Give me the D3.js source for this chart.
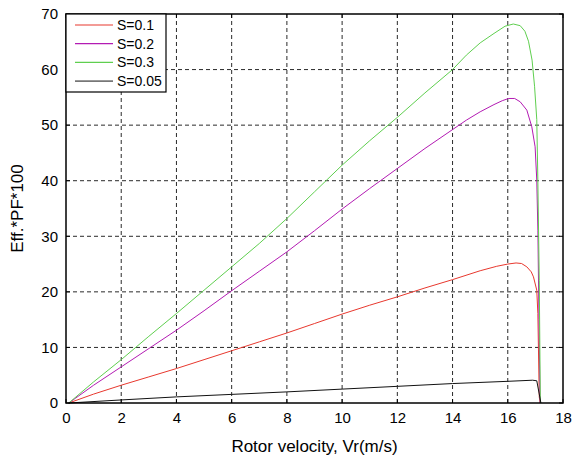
<!DOCTYPE html>
<html>
<head>
	<script type="text/javascript" src="https://cdn.jsdelivr.net/npm/d3@7"></script>
	<style type="text/css">
		body {
			margin: 0;
			background: white;
		}
		text {
			font-family: "Liberation Sans", Arial, sans-serif;
			fill: black;
		}
		.grid line {
			stroke: #2a2a2a;
			stroke-width: 1px;
			stroke-dasharray: 4,3;
		}
		.curve {
			fill: none;
			stroke-width: 1px;
		}
	</style>
</head>
<body>
<script type="text/javascript">

var width = 574,
	height = 462;

var margin = { left: 66, right: 11, top: 14, bottom: 59 };

var xTicks = [0, 2, 4, 6, 8, 10, 12, 14, 16, 18];
var yTicks = [0, 10, 20, 30, 40, 50, 60, 70];

// [rotor velocity, eff*PF*100]
var s01 = [[0.1,0],[1,1.6],[2,3.2],[3,4.7],[4,6.2],[5,7.8],[6,9.4],[7,11],[8,12.6],[9,14.3],[10,16],[11,17.6],
	[12,19.1],[13,20.7],[14,22.2],[15,23.8],[15.6,24.6],[16,25.0],[16.3,25.2],[16.5,25.1],[16.69,24.5],
	[16.85,23.6],[16.93,22.7],[17.05,20.3],[17.09,16.1],[17.14,1.1],[17.17,0]];
var s02 = [[0.1,0],[1,3.2],[2,6.5],[3,9.8],[4,13.1],[5,16.6],[6,20.2],[7,23.7],[8,27.2],[9,31],[10,34.9],
	[11,38.6],[12,42.2],[13,45.8],[14,49.2],[14.5,50.9],[15,52.4],[15.5,53.7],[15.8,54.4],[16.03,54.8],
	[16.25,54.8],[16.45,54.2],[16.69,52.7],[16.87,49.7],[16.99,46.1],[17.05,40.1],[17.09,31.1],
	[17.13,15],[17.17,0]];
var s03 = [[0.1,0],[1,3.8],[2,7.8],[3,12],[4,16.1],[5,20.3],[6,24.5],[7,28.7],[8,33.2],[9,38],[10,42.8],
	[11,47.2],[12,51.4],[13,55.8],[14,60],[14.5,62.6],[15,64.8],[15.5,66.5],[15.9,67.8],[16.2,68.2],
	[16.45,67.9],[16.62,66.9],[16.75,65.1],[16.88,61.7],[16.97,57],[17.05,51],[17.09,40],[17.14,22],
	[17.18,0]];
var s005 = [[0.1,0],[2,0.55],[4,1.1],[6,1.55],[8,2.0],[10,2.5],[12,3.0],[14,3.5],[16,3.9],[16.9,4.1],
	[17.05,4.0],[17.2,0]];

var seriesNames = ["S=0.1", "S=0.2", "S=0.3", "S=0.05"];
var seriesData = [s01, s02, s03, s005];
var colors = ["#e8382e", "#b31bb3", "#5fcf4f", "#111111"];
var legendColors = ["#e8382e", "#b31bb3", "#5fcf4f", "#777777"];

var x = d3.scaleLinear().domain([0, 18]).range([margin.left, width - margin.right]);
var y = d3.scaleLinear().domain([0, 70]).range([height - margin.bottom, margin.top]);

var svg = d3.select("body").append("svg")
	.attr("width", width)
	.attr("height", height);

// grid
var grid = svg.append("g").attr("class", "grid");
grid.selectAll("line.v")
	.data(xTicks.slice(1, -1))
  .enter().append("line")
	.attr("class", "v")
	.attr("x1", function(d) { return x(d); })
	.attr("x2", function(d) { return x(d); })
	.attr("y1", y(0))
	.attr("y2", y(70));
grid.selectAll("line.h")
	.data(yTicks.slice(1, -1))
  .enter().append("line")
	.attr("class", "h")
	.attr("x1", x(0))
	.attr("x2", x(18))
	.attr("y1", function(d) { return y(d); })
	.attr("y2", function(d) { return y(d); });

// curves
var line = d3.line()
	.x(function(d) { return x(d[0]); })
	.y(function(d) { return y(d[1]); });

svg.selectAll("path.curve")
	.data(seriesData)
  .enter().append("path")
	.attr("class", "curve")
	.attr("stroke", function(d, i) { return colors[i]; })
	.attr("d", line);

// axes
var xAxis = d3.axisBottom(x).tickValues(xTicks).tickSize(0).tickPadding(9);
var yAxis = d3.axisLeft(y).tickValues(yTicks).tickSize(0).tickPadding(8);

svg.append("g")
	.attr("transform", "translate(0," + y(0) + ")")
	.call(xAxis)
	.call(function(g) { g.select(".domain").remove(); })
	.selectAll("text")
	.style("font-size", "15px")
	.attr("fill", "black");

svg.append("g")
	.attr("transform", "translate(" + x(0) + ",0)")
	.call(yAxis)
	.call(function(g) { g.select(".domain").remove(); })
	.selectAll("text")
	.style("font-size", "15px")
	.attr("fill", "black");

// inward ticks on all sides
var ticks = svg.append("g").attr("stroke", "black").attr("stroke-width", 1);
xTicks.forEach(function(t) {
	ticks.append("line").attr("x1", x(t)).attr("x2", x(t)).attr("y1", y(0)).attr("y2", y(0) - 4);
	ticks.append("line").attr("x1", x(t)).attr("x2", x(t)).attr("y1", y(70)).attr("y2", y(70) + 4);
});
yTicks.forEach(function(t) {
	ticks.append("line").attr("x1", x(0)).attr("x2", x(0) + 4).attr("y1", y(t)).attr("y2", y(t));
	ticks.append("line").attr("x1", x(18)).attr("x2", x(18) - 4).attr("y1", y(t)).attr("y2", y(t));
});

// frame
svg.append("rect")
	.attr("x", x(0))
	.attr("y", y(70))
	.attr("width", x(18) - x(0))
	.attr("height", y(0) - y(70))
	.attr("fill", "none")
	.attr("stroke", "black")
	.attr("stroke-width", 1.5);

// axis titles
svg.append("text")
	.attr("x", (x(0) + x(18)) / 2)
	.attr("y", 452)
	.attr("text-anchor", "middle")
	.style("font-size", "17px")
	.text("Rotor velocity, Vr(m/s)");

svg.append("text")
	.attr("transform", "translate(23," + ((y(0) + y(70)) / 2) + ") rotate(-90)")
	.attr("text-anchor", "middle")
	.style("font-size", "17px")
	.text("Eff.*PF*100");

// legend
var legend = svg.append("g").attr("transform", "translate(" + x(0) + "," + y(70) + ")");
legend.append("rect")
	.attr("width", 100)
	.attr("height", 78)
	.attr("fill", "white")
	.attr("stroke", "black")
	.attr("stroke-width", 1.2);

var rows = legend.selectAll("g.row")
	.data(seriesNames)
  .enter().append("g")
	.attr("class", "row")
	.attr("transform", function(d, i) { return "translate(0," + (11 + i * 18.7) + ")"; });
rows.append("line")
	.attr("x1", 9)
	.attr("x2", 47)
	.attr("stroke", function(d, i) { return legendColors[i]; })
	.attr("stroke-width", function(d, i) { return i === 3 ? 1.6 : 1.2; });
rows.append("text")
	.attr("x", 51)
	.attr("dy", "0.35em")
	.style("font-size", "14px")
	.text(function(d) { return d; });

</script>
</body>
</html>
